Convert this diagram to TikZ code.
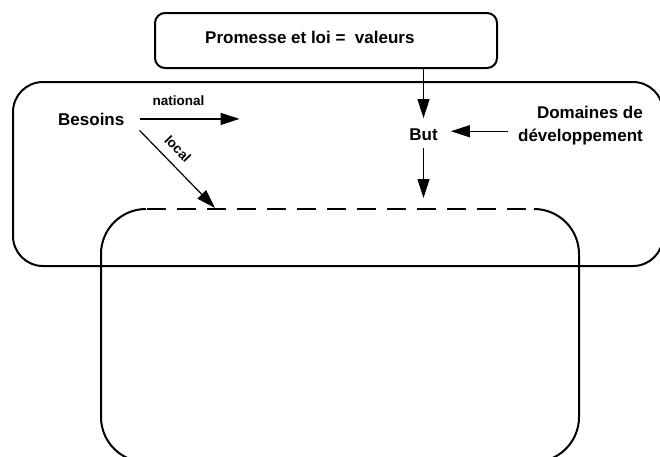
\documentclass[tikz,border=0pt]{standalone}
\usepackage{fontspec}
\setmainfont{Liberation Sans}
\usetikzlibrary{arrows.meta,calc}
\begin{document}
\begin{tikzpicture}[x=1pt,y=-1pt,
  box/.style={line width=2pt, rounded corners=#1},
  arr/.style={line width=1.2pt, -{Triangle[length=19pt,width=12pt]}},
  big/.style={font=\fontsize{17}{23}\selectfont\bfseries, inner sep=0pt},
  small/.style={font=\fontsize{13.5}{16}\selectfont\bfseries, inner sep=0pt}]
\useasboundingbox[fill=white] (0,0) rectangle (660,456);
% large upper frame
\draw[box=30] (13,82) rectangle (663,266);
% lower frame (solid sides, dashed top)
\draw[box=45] (146,209) -- (101,209) -- (101,462) -- (579,462) -- (579,209) -- (534,209);
\draw[line width=2pt, dash pattern=on 19pt off 11pt] (147,209) -- (526,209);
% top box
\node[draw, box=10, minimum width=342pt, minimum height=55pt, inner sep=0pt] (top) at (326,40.5) {};
\node[big, anchor=base west] (prom) at (205,43) {Promesse et loi =\ \ valeurs};
% texts
\node[big, anchor=base west] (bes) at (58,125) {Besoins};
\node[big, anchor=base] (but) at (423.5,140) {But};
\node[big, align=right, anchor=east] (dom) at (643,126) {Domaines de\\développement};
% connectors
\coordinate (natstart) at ([xshift=15pt]bes.east);
\coordinate (natend) at ([xshift=115pt]bes.east);
\coordinate (loctip) at (215,208);
\coordinate (buttip) at (423.5,198);
\draw[arr] (natstart) -- node[small, pos=0.39, anchor=base, yshift=13pt]{national} (natend);
\draw[arr] ([xshift=15pt,yshift=-5pt]bes.south east) -- node[small, sloped, pos=0.37, above=9pt]{local} (loctip);
\draw[arr] (top.south -| but.north) -- ([yshift=10pt]but.north);
\draw[arr] ([yshift=-8pt]but.south) -- (buttip);
\draw[arr] ([xshift=-10pt,yshift=3pt]dom.west |- but.east) -- ([xshift=13pt,yshift=3pt]but.east);
\end{tikzpicture}
\end{document}
